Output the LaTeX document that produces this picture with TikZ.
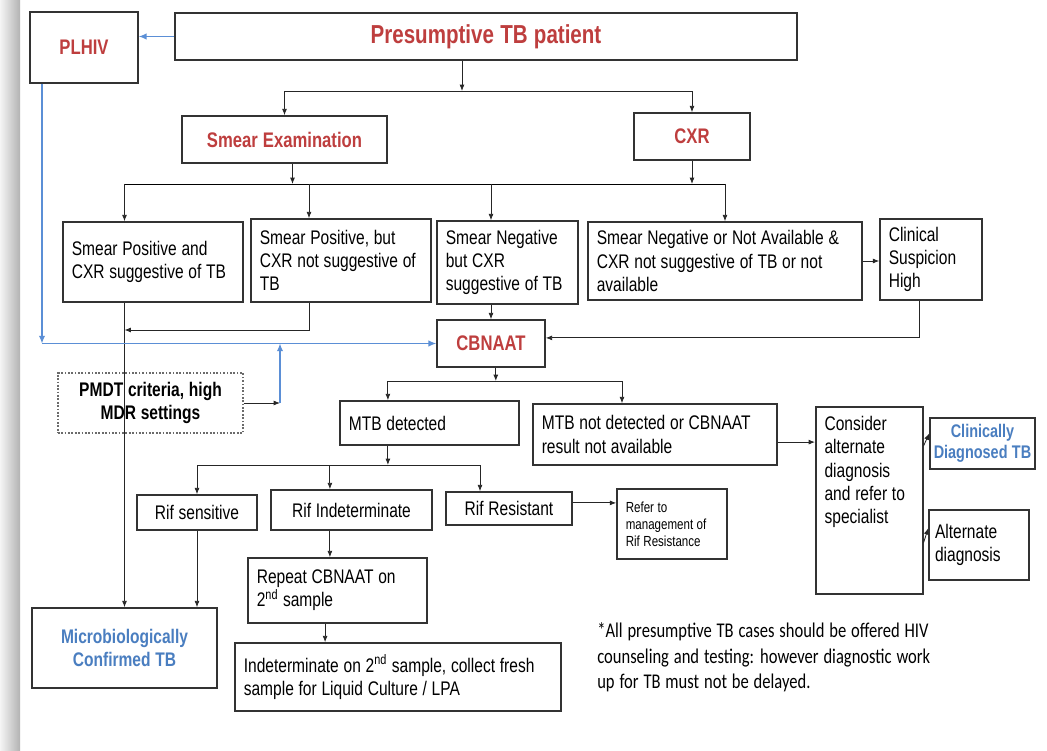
\documentclass[tikz,border=0pt]{standalone}
\usepackage{fontspec}
\setmainfont{Liberation Sans}[FakeStretch=0.79, WordSpace=1.1]
\newfontfamily\notefont{Carlito}[FakeStretch=0.79, WordSpace=1.3]
\usepackage{xcolor}
\usepackage{tikz}
\usetikzlibrary{arrows.meta, positioning}
\definecolor{Frame}{HTML}{333333}
\definecolor{Brick}{HTML}{BE3E3E}
\definecolor{Sky}{HTML}{4A7EC0}
\definecolor{HivBlue}{HTML}{5B8FD6}
\definecolor{Dots}{HTML}{6B6B6B}
\newcommand{\fsz}[2]{\fontsize{#1}{#2}\selectfont}

\begin{document}
\begin{tikzpicture}[
  font=\fsz{14}{16.5},
  box/.style={draw=Frame, line width=1.1pt, inner xsep=0.22cm, inner ysep=0.08cm},
  lbox/.style={box, align=flush left},
  cbox/.style={box, align=center},
  head/.style={cbox, text=Brick, font=\bfseries\fsz{15}{18}},
  result/.style={cbox, text=Sky, font=\bfseries\fsz{14}{16}},
  dotbox/.style={cbox, draw=Dots, line width=1pt, dash pattern=on 1.2pt off 1.2pt, font=\bfseries\fsz{14}{17}},
  arrow/.style={-{Latex[length=4.5pt, width=3.5pt]}, line width=0.6pt, draw=black!85},
  hivarrow/.style={-{Latex[length=5.5pt, width=4.5pt]}, line width=0.8pt, draw=HivBlue}
]
\useasboundingbox (0,0) rectangle (26.175,-18.775);
\fill[white] (0,0) rectangle (26.175,-18.775);
\shade[left color=gray!8, right color=gray!60] (0,0) rectangle (0.5,-18.775);

\coordinate (topbar) at (0,-2.275);
\coordinate (rowbar) at (0,-4.6);
\coordinate (merge) at (0,-8.25);
\coordinate (mtbbar) at (0,-9.525);
\coordinate (rifbar) at (0,-11.625);
\coordinate (pmdtup) at (7.0,0);

\node[head, minimum width=2.7cm, minimum height=1.775cm] (plhiv) at (2.1,-1.1875) {PLHIV};
\node[head, font=\bfseries\fsz{18.5}{22}, minimum width=15.55cm, minimum height=1.175cm] (patient) at (12.15,-0.9125) {Presumptive TB patient};
\node[head, minimum width=5.125cm, minimum height=1.175cm] (smear) at (7.1125,-3.4875) {Smear Examination};
\node[head, minimum width=2.9cm, minimum height=1.175cm] (cxr) at (17.3,-3.4125) {CXR};

\node[lbox, text width=4.06cm, minimum height=2.0cm] (smpos) at (3.825,-6.55) {Smear Positive and\\CXR suggestive of TB};
\node[lbox, text width=4.06cm, minimum height=2.075cm] (smposnot) at (8.525,-6.5125) {Smear Positive, but\\CXR not suggestive of\\TB};
\node[lbox, text width=3.085cm, minimum height=2.075cm] (smneg) at (12.6875,-6.5625) {Smear Negative\\but CXR\\suggestive of TB};
\node[lbox, text width=6.41cm, minimum height=1.95cm] (smnegna) at (18.125,-6.525) {Smear Negative or Not Available \&\\CXR not suggestive of TB or not\\available};
\node[lbox, text width=2.11cm, minimum height=2.025cm] (clinsusp) at (23.275,-6.4875) {Clinical\\Suspicion\\High};

\node[head, minimum width=2.7cm, minimum height=1.175cm] (cbnaat) at (12.275,-8.5875) {CBNAAT};
\node[dotbox, minimum width=4.625cm, minimum height=1.5cm] (pmdt) at (3.7625,-10.075) {PMDT criteria, high\\MDR settings};

\node[lbox, text width=4.035cm, minimum height=1.1cm] (mtbdet) at (10.7375,-10.575) {MTB detected};
\node[lbox, text width=5.66cm, minimum height=1.525cm] (mtbnot) at (16.375,-10.8625) {MTB not detected or CBNAAT\\result not available};
\node[lbox, anchor=north west, text width=2.235cm, text height=0.52cm, text depth=3.995cm] (consider) at (20.375,-10.15) {Consider\\alternate\\diagnosis\\and refer to\\specialist};
\node[result, font=\bfseries\fsz{13}{14.5}, inner xsep=0.05cm, minimum width=2.625cm, minimum height=1.275cm] (clindx) at (24.5625,-11.0875) {Clinically\\Diagnosed TB};
\node[lbox, inner xsep=0.15cm, text width=2.2cm, minimum height=1.75cm] (altdx) at (24.475,-13.625) {Alternate\\diagnosis};

\node[cbox, minimum width=3.0cm, minimum height=0.875cm] (rifsens) at (4.925,-12.8125) {Rif sensitive};
\node[cbox, minimum width=4.025cm, minimum height=1.0cm] (rifindet) at (8.7875,-12.75) {Rif Indeterminate};
\node[cbox, minimum width=3.15cm, minimum height=0.825cm] (rifres) at (12.725,-12.7125) {Rif Resistant};
\node[lbox, font=\fsz{10.4}{12.2}, text width=2.31cm, minimum height=1.75cm] (refer) at (16.8,-13.1) {Refer to\\management of\\Rif Resistance};

\node[lbox, text width=4.035cm, minimum height=1.625cm] (repeat) at (8.4375,-14.7625) {Repeat CBNAAT on\\2\textsuperscript{nd} sample};
\node[lbox, text width=7.71cm, minimum height=1.7cm] (indet2) at (9.95,-16.925) {Indeterminate on 2\textsuperscript{nd} sample, collect fresh\\sample for Liquid Culture / LPA};
\node[result, minimum width=4.625cm, minimum height=2.0cm] (microconf) at (3.1125,-16.2) {Microbiologically\\Confirmed TB};

\node[anchor=north west, inner sep=0pt, align=left, font=\notefont\fsz{14.9}{18.4}] (note) at (14.925,-15.55) {*All presumptive TB cases should be offered HIV\\counseling and testing: however diagnostic work\\up for TB must not be delayed.};

\draw[hivarrow] (patient.west) -- (patient.west -| plhiv.east);
\draw[arrow] ([xshift=-0.6cm]patient.south) -- ([xshift=-0.6cm]patient.south |- topbar);
\draw[arrow] ([xshift=-0.6cm]patient.south |- topbar) -| (smear.north);
\draw[arrow] ([xshift=-0.6cm]patient.south |- topbar) -| (cxr.north);

\draw[arrow] ([xshift=0.2cm]smear.south) -- ([xshift=0.2cm]smear.south |- rowbar);
\draw[arrow] (cxr.south) -- (cxr.south |- rowbar);
\draw (microconf.north |- rowbar) -- (smnegna.north |- rowbar);
\draw[arrow] (microconf.north |- rowbar) -- (microconf.north |- smpos.north);
\draw[arrow] ([xshift=-0.8cm]smposnot.north |- rowbar) -- ([xshift=-0.8cm]smposnot.north);
\draw[arrow] (cbnaat.north |- rowbar) -- (cbnaat.north |- smneg.north);
\draw[arrow] (smnegna.north |- rowbar) -- (smnegna.north);

\draw[arrow] (smnegna.east) -- (smnegna.east -| clinsusp.west);
\draw[arrow] ([xshift=-0.28cm]clinsusp.south) |- ([yshift=0.14cm]cbnaat.east);
\draw[arrow] (cbnaat.north |- smneg.south) -- (cbnaat.north);
\draw[arrow] ([xshift=-0.8cm]smposnot.south) |- (microconf.north |- merge);
\draw[arrow] (microconf.north |- smpos.south) -- (microconf.north);

\draw[hivarrow] ([xshift=-1.05cm]plhiv.south) -- ([xshift=-1.05cm]plhiv.south |- cbnaat.west);
\draw[hivarrow] ([xshift=-1.05cm]plhiv.south |- cbnaat.west) -- (cbnaat.west);
\draw[arrow] (pmdt.east) -- (pmdt.east -| pmdtup);
\draw[hivarrow] (pmdt.east -| pmdtup) -- (pmdtup |- cbnaat.west);

\draw[arrow] ([xshift=0.12cm]cbnaat.south) -- ([xshift=0.12cm]cbnaat.south |- mtbbar);
\draw[arrow] ([xshift=0.12cm]cbnaat.south |- mtbbar) -| ([xshift=-1.04cm]mtbdet.north);
\draw[arrow] ([xshift=0.12cm]cbnaat.south |- mtbbar) -| ([xshift=-0.825cm]mtbnot.north);

\draw[arrow] ([yshift=-0.19cm]mtbnot.east) -- ([yshift=-0.19cm]mtbnot.east -| consider.west);
\draw[arrow] ([yshift=1.36cm]consider.east) -- ([yshift=0.25cm]clindx.west);
\draw[arrow] ([yshift=-1.06cm]consider.east) -- ([yshift=0.42cm]altdx.west);

\draw[arrow] ([xshift=-1.04cm]mtbdet.south) -- ([xshift=-1.04cm]mtbdet.south |- rifbar);
\draw[arrow] ([xshift=-1.04cm]mtbdet.south |- rifbar) -| (rifsens.north);
\draw[arrow] ([xshift=-1.04cm]mtbdet.south |- rifbar) -| ([xshift=-0.54cm]rifindet.north);
\draw[arrow] ([xshift=-1.04cm]mtbdet.south |- rifbar) -| ([xshift=-0.725cm]rifres.north);

\draw[arrow] ([yshift=0.14cm]rifres.east) -- ([yshift=0.14cm]rifres.east -| refer.west);
\draw[arrow] (rifsens.south) -- (rifsens.south |- microconf.north);
\draw[arrow] ([xshift=-0.54cm]rifindet.south) -- ([xshift=-0.54cm]rifindet.south |- repeat.north);
\draw[arrow] ([xshift=-0.31cm]repeat.south) -- ([xshift=-0.31cm]repeat.south |- indet2.north);
\end{tikzpicture}
\end{document}
